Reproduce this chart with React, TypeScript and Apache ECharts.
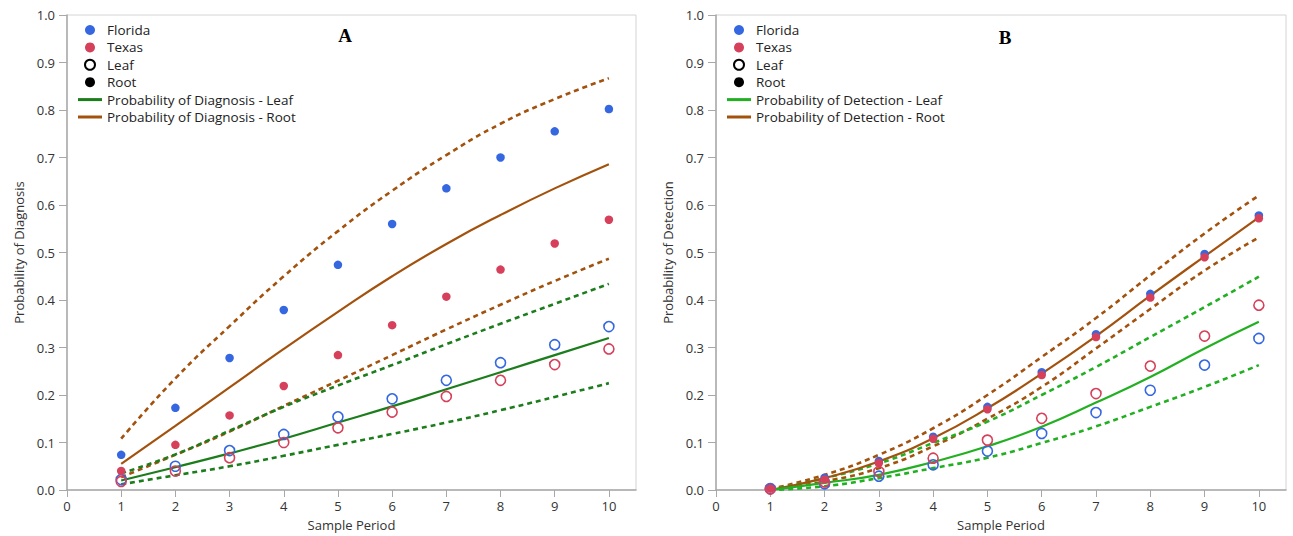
import React, { useEffect, useRef } from "react";
import * as echarts from "echarts";

// ---- Data ----
const periods = [1, 2, 3, 4, 5, 6, 7, 8, 9, 10];
const xTicks = [0, 1, 2, 3, 4, 5, 6, 7, 8, 9, 10];

// Panel A: Probability of Diagnosis
const aFloridaRoot = [0.074, 0.173, 0.278, 0.379, 0.474, 0.56, 0.635, 0.7, 0.755, 0.802];
const aTexasRoot = [0.04, 0.095, 0.157, 0.219, 0.284, 0.347, 0.407, 0.464, 0.519, 0.569];
const aFloridaLeaf = [0.022, 0.05, 0.083, 0.117, 0.154, 0.192, 0.231, 0.268, 0.306, 0.344];
const aTexasLeaf = [0.018, 0.04, 0.068, 0.1, 0.131, 0.164, 0.197, 0.231, 0.264, 0.297];
const aRootFit = [0.055, 0.135, 0.216, 0.297, 0.375, 0.45, 0.518, 0.579, 0.635, 0.686];
const aRootUpper = [0.108, 0.235, 0.345, 0.45, 0.545, 0.63, 0.705, 0.771, 0.823, 0.867];
const aRootLower = [0.027, 0.074, 0.123, 0.177, 0.23, 0.284, 0.338, 0.39, 0.44, 0.487];
const aLeafFit = [0.02, 0.048, 0.077, 0.108, 0.142, 0.176, 0.212, 0.248, 0.284, 0.32];
const aLeafUpper = [0.035, 0.075, 0.125, 0.175, 0.22, 0.263, 0.307, 0.35, 0.392, 0.434];
const aLeafLower = [0.012, 0.031, 0.05, 0.072, 0.095, 0.118, 0.142, 0.168, 0.196, 0.225];

// Panel B: Probability of Detection
const bFloridaRoot = [0.005, 0.026, 0.061, 0.112, 0.175, 0.248, 0.328, 0.413, 0.497, 0.578];
const bTexasRoot = [0.003, 0.022, 0.057, 0.108, 0.17, 0.242, 0.322, 0.405, 0.49, 0.572];
const bFloridaLeaf = [0.003, 0.013, 0.029, 0.053, 0.082, 0.119, 0.163, 0.21, 0.263, 0.319];
const bTexasLeaf = [0.002, 0.017, 0.039, 0.067, 0.105, 0.151, 0.203, 0.261, 0.324, 0.389];
const bRootFit = [0.0, 0.025, 0.06, 0.109, 0.172, 0.245, 0.324, 0.409, 0.492, 0.574];
const bRootUpper = [0.002, 0.032, 0.074, 0.13, 0.2, 0.28, 0.362, 0.452, 0.54, 0.62];
const bRootLower = [0.0, 0.018, 0.046, 0.092, 0.15, 0.217, 0.298, 0.381, 0.462, 0.532];
const bLeafFit = [0.0, 0.015, 0.032, 0.059, 0.092, 0.133, 0.184, 0.238, 0.298, 0.354];
const bLeafUpper = [0.001, 0.025, 0.056, 0.099, 0.144, 0.2, 0.259, 0.322, 0.385, 0.449];
const bLeafLower = [0.0, 0.008, 0.025, 0.046, 0.068, 0.099, 0.134, 0.175, 0.217, 0.263];

const BLUE = "#3567e0";
const RED = "#d6405a";
const BROWN = "#a3520e";
const GREEN_A = "#1c7d1c";
const GREEN_B = "#22b022";
const FONT = "'Open Sans', 'Noto Sans', sans-serif";
const LINE_ICON = "path://M0,0 H24 V3 H0 Z";

const pts = (ys: number[]) => periods.map((p, i) => [p, ys[i]]);

function lineSeries(name: string, ys: number[], color: string, idx: number, dashed: boolean) {
  return {
    name,
    type: "line",
    xAxisIndex: idx,
    yAxisIndex: idx,
    data: pts(ys),
    smooth: true,
    symbol: "none",
    showSymbol: false,
    itemStyle: { color },
    lineStyle: dashed
      ? { color, width: 2.6, type: [5, 4] }
      : { color, width: 2.2 },
    z: 2,
  };
}

function scatterSeries(name: string, ys: number[], color: string, idx: number, open: boolean) {
  return {
    name,
    type: "scatter",
    xAxisIndex: idx,
    yAxisIndex: idx,
    data: pts(ys),
    symbol: "circle",
    symbolSize: open ? 10 : 8.5,
    itemStyle: open
      ? { color: "rgba(255,255,255,0)", borderColor: color, borderWidth: 1.6, opacity: 1 }
      : { color, opacity: 1 },
    z: 3,
  };
}

function dummy(name: string, idx: number, color: string) {
  return {
    name,
    type: "scatter",
    xAxisIndex: idx,
    yAxisIndex: idx,
    data: [],
    symbol: "circle",
    itemStyle: { color, opacity: 1 },
  };
}

function xAxis(idx: number) {
  return {
    gridIndex: idx,
    type: "value",
    min: 0,
    max: 10.5,
    interval: 1,
    name: "Sample Period",
    nameLocation: "middle",
    nameGap: 28,
    nameTextStyle: { fontSize: 13, color: "#333", fontFamily: FONT },
    axisLine: { lineStyle: { color: "#a8a8a8", width: 1.5 } },
    axisTick: { show: true, length: 7, customValues: xTicks, lineStyle: { color: "#a8a8a8" } },
    axisLabel: { customValues: xTicks, fontSize: 13, color: "#333", margin: 9, fontFamily: FONT },
    splitLine: { show: false },
  };
}

function yAxis(idx: number, name: string) {
  return {
    gridIndex: idx,
    type: "value",
    min: 0,
    max: 1,
    interval: 0.1,
    name,
    nameLocation: "middle",
    nameGap: 42,
    nameTextStyle: { fontSize: 13, color: "#333", fontFamily: FONT },
    axisLine: { show: true, lineStyle: { color: "#a8a8a8", width: 1.5 } },
    axisTick: { show: true, length: 8, lineStyle: { color: "#a8a8a8" } },
    axisLabel: {
      fontSize: 13,
      color: "#333",
      margin: 12,
      fontFamily: FONT,
      formatter: (v: number) => v.toFixed(1),
    },
    splitLine: { show: false },
  };
}

function legend(left: number, leafName: string, rootName: string, leafColor: string) {
  return {
    orient: "vertical",
    left,
    top: 23,
    padding: 0,
    itemGap: 3.4,
    itemWidth: 24,
    itemHeight: 10,
    selectedMode: false,
    textStyle: { fontSize: 13.5, color: "#222", fontFamily: FONT, lineHeight: 14 },
    data: [
      { name: "Florida", icon: "circle", itemStyle: { color: BLUE, opacity: 1 } },
      { name: "Texas", icon: "circle", itemStyle: { color: RED, opacity: 1 } },
      { name: "Leaf", icon: "circle", itemStyle: { color: "#fff", borderColor: "#000", borderWidth: 2, opacity: 1 } },
      { name: "Root", icon: "circle", itemStyle: { color: "#000", opacity: 1 } },
      { name: leafName, icon: LINE_ICON, itemStyle: { color: leafColor } },
      { name: rootName, icon: LINE_ICON, itemStyle: { color: BROWN } },
    ],
  };
}

export default function App() {
  const ref = useRef<HTMLDivElement>(null);

  useEffect(() => {
    if (!ref.current) return;
    const chart = echarts.init(ref.current, null, { renderer: "svg" });
    const option = {
      animation: false,
      backgroundColor: "#fff",
      textStyle: { fontFamily: FONT },
      grid: [
        { left: 67, top: 15, width: 569, height: 477, show: true, borderColor: "#d4d4d4", borderWidth: 1 },
        { left: 716, top: 15, width: 570, height: 477, show: true, borderColor: "#d4d4d4", borderWidth: 1 },
      ],
      xAxis: [xAxis(0), xAxis(1)],
      yAxis: [yAxis(0, "Probability of Diagnosis"), yAxis(1, "Probability of Detection")],
      legend: [
        legend(78, "Probability of Diagnosis - Leaf", "Probability of Diagnosis - Root", GREEN_A),
        legend(727, "Probability of Detection - Leaf", "Probability of Detection - Root", GREEN_B),
      ],
      graphic: [
        { type: "text", x: 345, y: 35, style: { text: "A", font: "bold 19px 'Liberation Serif', serif", fill: "#000", align: "center", verticalAlign: "middle" } },
        { type: "text", x: 1005, y: 37, style: { text: "B", font: "bold 19px 'Liberation Serif', serif", fill: "#000", align: "center", verticalAlign: "middle" } },
      ],
      series: [
        dummy("Florida", 0, BLUE),
        dummy("Texas", 0, RED),
        dummy("Leaf", 0, "#000"),
        dummy("Root", 0, "#000"),
        // Panel A lines
        lineSeries("A Root Upper", aRootUpper, BROWN, 0, true),
        lineSeries("A Root Lower", aRootLower, BROWN, 0, true),
        lineSeries("A Leaf Upper", aLeafUpper, GREEN_A, 0, true),
        lineSeries("A Leaf Lower", aLeafLower, GREEN_A, 0, true),
        lineSeries("Probability of Diagnosis - Root", aRootFit, BROWN, 0, false),
        lineSeries("Probability of Diagnosis - Leaf", aLeafFit, GREEN_A, 0, false),
        // Panel A points
        scatterSeries("A Florida Leaf", aFloridaLeaf, BLUE, 0, true),
        scatterSeries("A Texas Leaf", aTexasLeaf, RED, 0, true),
        scatterSeries("A Florida Root", aFloridaRoot, BLUE, 0, false),
        scatterSeries("A Texas Root", aTexasRoot, RED, 0, false),
        // Panel B lines
        lineSeries("B Root Upper", bRootUpper, BROWN, 1, true),
        lineSeries("B Root Lower", bRootLower, BROWN, 1, true),
        lineSeries("B Leaf Upper", bLeafUpper, GREEN_B, 1, true),
        lineSeries("B Leaf Lower", bLeafLower, GREEN_B, 1, true),
        lineSeries("Probability of Detection - Root", bRootFit, BROWN, 1, false),
        lineSeries("Probability of Detection - Leaf", bLeafFit, GREEN_B, 1, false),
        // Panel B points
        scatterSeries("B Florida Leaf", bFloridaLeaf, BLUE, 1, true),
        scatterSeries("B Texas Leaf", bTexasLeaf, RED, 1, true),
        scatterSeries("B Florida Root", bFloridaRoot, BLUE, 1, false),
        scatterSeries("B Texas Root", bTexasRoot, RED, 1, false),
      ],
    };
    chart.setOption(option as any);
    return () => chart.dispose();
  }, []);

  return (
    <div
      ref={ref}
      style={{ position: "fixed", left: 0, top: 0, width: 1293, height: 536, background: "#fff" }}
    />
  );
}
